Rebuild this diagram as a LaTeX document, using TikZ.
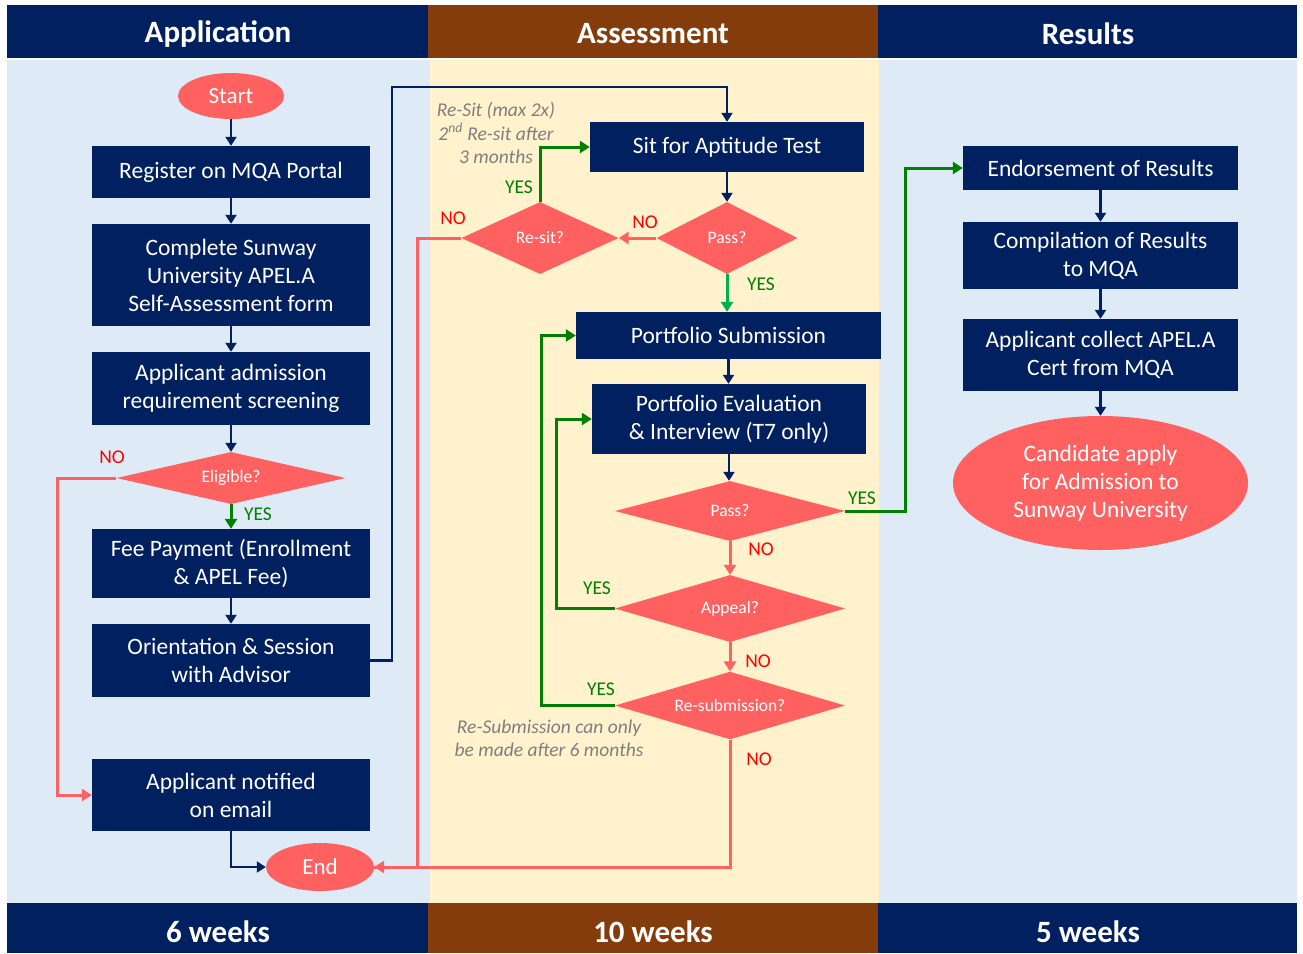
\documentclass[tikz,border=0pt]{standalone}
\usepackage{fontspec}
\setmainfont{Carlito}
\usetikzlibrary{shapes.geometric,arrows.meta}
\definecolor{navy}{HTML}{002060}
\definecolor{hdrbrown}{HTML}{843C0C}
\definecolor{paleblue}{HTML}{DEEAF6}
\definecolor{cream}{HTML}{FFF2CC}
\definecolor{salmon}{HTML}{FF6161}
\definecolor{lblred}{HTML}{FF0000}
\definecolor{dkgreen}{HTML}{008000}
\definecolor{brgreen}{HTML}{00B050}
\definecolor{notegray}{HTML}{7F7F7F}
\tikzset{
  box/.style={draw=none, fill=navy, text=white, align=center, inner sep=0pt,
    font=\fontsize{23.5}{28}\selectfont},
  dec/.style={diamond, fill=salmon, text=white, inner sep=0pt, aspect=2,
    font=\fontsize{17.5}{20}\selectfont},
  term/.style={ellipse, fill=salmon, text=white, inner sep=0pt, align=center,
    font=\fontsize{23.5}{28}\selectfont},
  hdr/.style={text=white, font=\fontsize{31}{36}\selectfont\bfseries},
  navyarr/.style={draw=navy, line width=2.5pt, -{Triangle[width=11pt,length=9pt]}},
  redarr/.style={draw=salmon, line width=3pt, -{Triangle[width=12pt,length=10pt]}},
  greenarr/.style={draw=dkgreen, line width=3pt, -{Triangle[width=12pt,length=10pt]}},
  bgreenarr/.style={draw=brgreen, line width=3pt, -{Triangle[width=12pt,length=10pt]}},
  nolbl/.style={text=lblred, font=\fontsize{19.5}{22}\selectfont},
  yeslbl/.style={text=dkgreen, font=\fontsize{19.5}{22}\selectfont},
  note/.style={text=notegray, align=center, font=\fontsize{19.5}{23.5}\selectfont\itshape}
}
\begin{document}
\begin{tikzpicture}[x=1pt,y=1pt]
\useasboundingbox (0,0) rectangle (1303,-953);
\fill[white] (0,0) rectangle (1303,-953);
% panels
\fill[paleblue] (7,-60) rectangle (430,-903);
\fill[cream] (430,-60) rectangle (879,-903);
\fill[paleblue] (879,-60) rectangle (1297,-903);
% header
\fill[navy] (7,-5) rectangle (428,-58);
\fill[hdrbrown] (428,-5) rectangle (878,-58);
\fill[navy] (878,-5) rectangle (1297,-58);
\node[hdr] (h1) at (218,-34) {Application};
\node[hdr] (h2) at (653,-34) {Assessment};
\node[hdr] (h3) at (1088,-34) {Results};
% footer
\fill[navy] (7,-903) rectangle (428,-953);
\fill[hdrbrown] (428,-903) rectangle (878,-953);
\fill[navy] (878,-903) rectangle (1297,-953);
\node[hdr] (f1) at (218,-931.5) {6 weeks};
\node[hdr] (f2) at (653,-931.5) {10 weeks};
\node[hdr] (f3) at (1088,-931.5) {5 weeks};

% Application column
\node[term, minimum width=106, minimum height=46, font=\fontsize{23}{26}\selectfont] (start) at (231,-96) {Start};
\node[box, minimum width=278, minimum height=52] (register) at (231,-172) {Register on MQA Portal};
\node[box, minimum width=278, minimum height=102] (complete) at (231,-275) {Complete Sunway\\University APEL.A\\Self-Assessment form};
\node[box, minimum width=278, minimum height=73] (admission) at (231,-388.5) {Applicant admission\\requirement screening};
\node[dec, minimum width=229, minimum height=52] (eligible) at (231,-478) {Eligible?};
\node[box, minimum width=278, minimum height=69] (fee) at (231,-563.5) {Fee Payment (Enrollment\\\& APEL Fee)};
\node[box, minimum width=278, minimum height=73] (orient) at (231,-660.5) {Orientation \& Session\\with Advisor};
\node[box, minimum width=278, minimum height=72] (notified) at (231,-795) {Applicant notified\\on email};
\node[term, minimum width=108, minimum height=48, font=\fontsize{23}{26}\selectfont] (end) at (320,-867) {End};

% Assessment column
\node[box, minimum width=274, minimum height=50] (sit) at (727,-147) {Sit for Aptitude Test};
\node[dec, minimum width=141, minimum height=72] (pass1) at (727,-238) {Pass?};
\node[dec, minimum width=157, minimum height=72] (resit) at (540,-238) {Re-sit?};
\node[box, minimum width=305, minimum height=47] (portsub) at (728.5,-335.5) {Portfolio Submission};
\node[box, minimum width=274, minimum height=70] (porteval) at (729,-419) {Portfolio Evaluation\\\& Interview (T7 only)};
\node[dec, minimum width=230, minimum height=60] (pass2) at (730,-511) {Pass?};
\node[dec, minimum width=230, minimum height=67] (appeal) at (730,-608.5) {Appeal?};
\node[dec, minimum width=230, minimum height=67] (resub) at (730,-705.5) {Re-submission?};
\node[note] (note1) at (496,-133) {Re-Sit (max 2x)\\2\textsuperscript{nd} Re-sit after\\3 months};
\node[note] (note2) at (549,-738.5) {Re-Submission can only\\be made after 6 months};

% Results column
\node[box, minimum width=275, minimum height=44] (endorse) at (1100.5,-168) {Endorsement of Results};
\node[box, minimum width=275, minimum height=67] (compile) at (1100.5,-255.5) {Compilation of Results\\to MQA};
\node[box, minimum width=275, minimum height=72] (collect) at (1100.5,-355) {Applicant collect APEL.A\\Cert from MQA};
\node[term, minimum width=295, minimum height=134] (cand) at (1100.5,-483) {Candidate apply\\for Admission to\\Sunway University};

% connectors - application
\draw[navyarr] (start.south) -- (register.north);
\draw[navyarr] (register.south) -- (complete.north);
\draw[navyarr] (complete.south) -- (admission.north);
\draw[navyarr] (admission.south) -- (eligible.north);
\draw[greenarr] (eligible.south) -- (fee.north);
\node[yeslbl] (ly1) at (258,-514) {YES};
\draw[navyarr] (fee.south) -- (orient.north);
\draw[redarr] (eligible.west) -- (57,-478) -- (57,-795) -- (notified.west);
\node[nolbl] (ln1) at (112,-457) {NO};
\draw[navyarr] (notified.south) |- (end.west);
\draw[navyarr] (orient.east) -- (392,-660.5) -- (392,-87) -| (sit.north);

% connectors - assessment
\draw[navyarr] (sit.south) -- (pass1.north);
\draw[redarr] (pass1.west) -- (resit.east);
\node[nolbl] (ln2) at (645,-222) {NO};
\draw[greenarr] (resit.north) |- (sit.west);
\node[yeslbl] (ly2) at (519,-187) {YES};
\draw[redarr] (resit.west) -- (417,-238) -- (417,-867) -- (end.east);
\node[nolbl] (ln3) at (453,-218) {NO};
\draw[bgreenarr] (pass1.south) -- (pass1.south |- portsub.north);
\node[yeslbl] (ly3) at (761,-284) {YES};
\draw[navyarr] (portsub.south) -- (portsub.south |- porteval.north);
\draw[navyarr] (porteval.south) -- (porteval.south |- pass2.north);
\draw[redarr] (pass2.south) -- (appeal.north);
\node[nolbl] (ln4) at (761,-549) {NO};
\draw[redarr] (appeal.south) -- (resub.north);
\node[nolbl] (ln5) at (758,-661) {NO};
\draw[draw=salmon, line width=3pt] (resub.south) -- (730,-867) -- (end.east);
\node[nolbl] (ln6) at (759,-759) {NO};
\draw[greenarr] (appeal.west) -- (556,-608.5) |- (porteval.west);
\node[yeslbl] (ly4) at (597,-588) {YES};
\draw[greenarr] (resub.west) -- (541,-705.5) |- (portsub.west);
\node[yeslbl] (ly5) at (601,-689) {YES};
\draw[greenarr] (pass2.east) -- (905,-511) |- (endorse.west);
\node[yeslbl] (ly6) at (862,-498) {YES};

% connectors - results
\draw[navyarr] (endorse.south) -- (compile.north);
\draw[navyarr] (compile.south) -- (collect.north);
\draw[navyarr] (collect.south) -- (cand.north);
\end{tikzpicture}
\end{document}
